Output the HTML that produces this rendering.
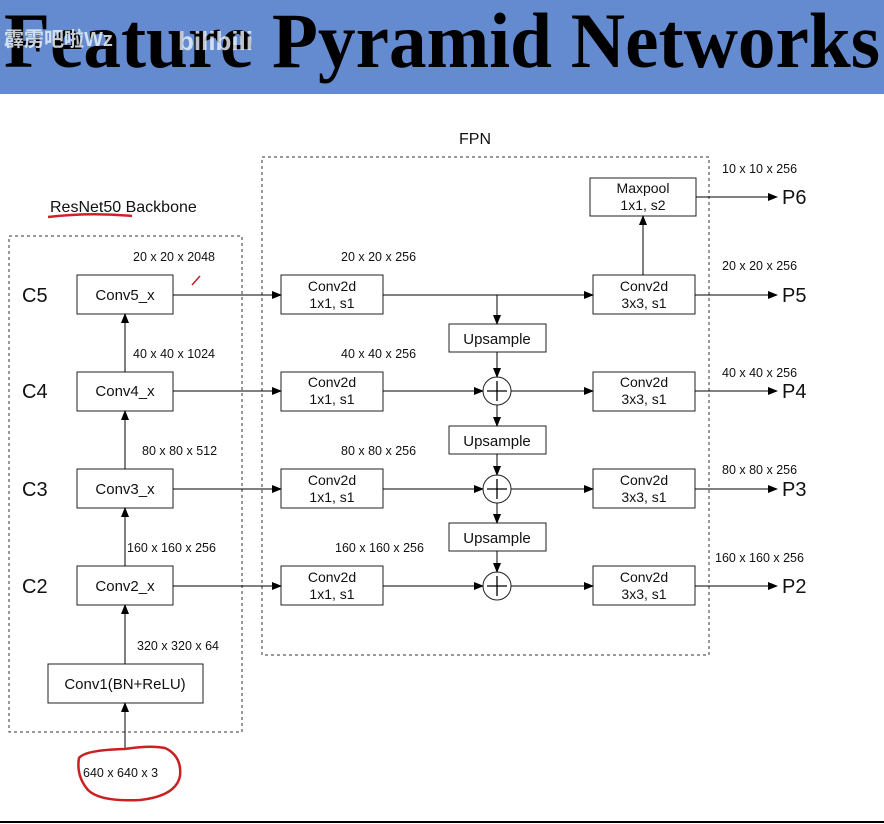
<!DOCTYPE html>
<html><head><meta charset="utf-8"><style>
html,body{margin:0;padding:0;background:#fff;width:884px;height:824px;overflow:hidden}
svg{display:block}
text{font-family:"Liberation Sans",Arial,sans-serif;fill:#111}
</style></head><body>
<svg width="884" height="824" viewBox="0 0 884 824" xmlns="http://www.w3.org/2000/svg">
<defs><marker id="a" markerWidth="10" markerHeight="10" refX="9" refY="5" orient="auto" markerUnits="userSpaceOnUse"><path d="M0,1 L10,5 L0,9 Z" fill="#000"/></marker></defs>
<rect x="0" y="0" width="884" height="94" fill="#648bd0"/>
<text x="4" y="67" textLength="876" lengthAdjust="spacingAndGlyphs" style="font-family:'Liberation Serif',serif;font-weight:bold;font-size:78px;fill:#000">Feature Pyramid Networks</text>
<text x="4" y="46" style="font-family:'Liberation Sans','Noto Sans CJK SC',sans-serif;font-size:20px;font-weight:bold;fill:#e8eef8;opacity:.85">霹雳吧啦Wz</text>
<text x="178" y="50" style="font-size:26px;font-weight:bold;fill:#eef3fb;opacity:.8">bilibili</text>
<line x1="0" y1="822" x2="884" y2="822" stroke="#000" stroke-width="2"/>
<g fill="none" stroke="#333" stroke-dasharray="3,3" stroke-width="1">
<rect x="9" y="236" width="233" height="496"/>
<rect x="262" y="157" width="447" height="498"/>
</g>
<text x="459" y="144" font-size="16">FPN</text>
<text x="50" y="212" font-size="16">ResNet50 Backbone</text>
<path d="M48 217 Q90 212 132 216" stroke="#d0202a" stroke-width="2.5" fill="none"/>
<g fill="#fff" stroke="#222" stroke-width="1">
<rect x="77" y="275" width="96" height="39"/><rect x="77" y="372" width="96" height="39"/>
<rect x="77" y="469" width="96" height="39"/><rect x="77" y="566" width="96" height="39"/>
<rect x="48" y="664" width="155" height="39"/>
<rect x="281" y="275" width="102" height="39"/><rect x="281" y="372" width="102" height="39"/>
<rect x="281" y="469" width="102" height="39"/><rect x="281" y="566" width="102" height="39"/>
<rect x="593" y="275" width="102" height="39"/><rect x="593" y="372" width="102" height="39"/>
<rect x="593" y="469" width="102" height="39"/><rect x="593" y="566" width="102" height="39"/>
<rect x="590" y="178" width="106" height="38"/>
<rect x="449" y="324" width="97" height="28"/><rect x="449" y="426" width="97" height="28"/><rect x="449" y="523" width="97" height="28"/>
<circle cx="497" cy="391" r="14"/><circle cx="497" cy="489" r="14"/><circle cx="497" cy="586" r="14"/>
</g>
<g stroke="#000" stroke-width="1.3"><path d="M497 381v20M487 391h20M497 479v20M487 489h20M497 576v20M487 586h20"/></g>
<g stroke="#000" stroke-width="1" fill="none" marker-end="url(#a)">
<line x1="173" y1="295" x2="281" y2="295"/><line x1="173" y1="391" x2="281" y2="391"/>
<line x1="173" y1="489" x2="281" y2="489"/><line x1="173" y1="586" x2="281" y2="586"/>
<line x1="125" y1="372" x2="125" y2="314"/><line x1="125" y1="469" x2="125" y2="411"/>
<line x1="125" y1="566" x2="125" y2="508"/><line x1="125" y1="664" x2="125" y2="605"/>
<line x1="125" y1="748" x2="125" y2="703"/>
<line x1="383" y1="295" x2="593" y2="295"/>
<line x1="497" y1="295" x2="497" y2="324"/>
<line x1="383" y1="391" x2="483" y2="391"/><line x1="383" y1="489" x2="483" y2="489"/><line x1="383" y1="586" x2="483" y2="586"/>
<line x1="497" y1="352" x2="497" y2="377"/><line x1="497" y1="454" x2="497" y2="475"/><line x1="497" y1="551" x2="497" y2="572"/>
<line x1="497" y1="405" x2="497" y2="426"/><line x1="497" y1="503" x2="497" y2="523"/>
<line x1="511" y1="391" x2="593" y2="391"/><line x1="511" y1="489" x2="593" y2="489"/><line x1="511" y1="586" x2="593" y2="586"/>
<line x1="643" y1="275" x2="643" y2="216"/>
<line x1="696" y1="197" x2="777" y2="197"/><line x1="695" y1="295" x2="777" y2="295"/>
<line x1="695" y1="391" x2="777" y2="391"/><line x1="695" y1="489" x2="777" y2="489"/><line x1="695" y1="586" x2="777" y2="586"/>
</g>
<g font-size="15" text-anchor="middle">
<text x="125" y="300">Conv5_x</text><text x="125" y="396">Conv4_x</text>
<text x="125" y="494">Conv3_x</text><text x="125" y="591">Conv2_x</text>
<text x="125" y="689">Conv1(BN+ReLU)</text>
<text x="497" y="344">Upsample</text><text x="497" y="446">Upsample</text><text x="497" y="543">Upsample</text>
</g>
<g font-size="14" text-anchor="middle">
<text x="332" y="291">Conv2d</text><text x="332" y="308">1x1, s1</text>
<text x="332" y="387">Conv2d</text><text x="332" y="404">1x1, s1</text>
<text x="332" y="485">Conv2d</text><text x="332" y="502">1x1, s1</text>
<text x="332" y="582">Conv2d</text><text x="332" y="599">1x1, s1</text>
<text x="644" y="291">Conv2d</text><text x="644" y="308">3x3, s1</text>
<text x="644" y="387">Conv2d</text><text x="644" y="404">3x3, s1</text>
<text x="644" y="485">Conv2d</text><text x="644" y="502">3x3, s1</text>
<text x="644" y="582">Conv2d</text><text x="644" y="599">3x3, s1</text>
<text x="643" y="193">Maxpool</text><text x="643" y="210">1x1, s2</text>
</g>
<g font-size="20">
<text x="22" y="302">C5</text><text x="22" y="398">C4</text><text x="22" y="496">C3</text><text x="22" y="593">C2</text>
<text x="782" y="204">P6</text><text x="782" y="302">P5</text><text x="782" y="398">P4</text><text x="782" y="496">P3</text><text x="782" y="593">P2</text>
</g>
<g font-size="12.5">
<text x="133" y="261">20 x 20 x 2048</text><text x="133" y="358">40 x 40 x 1024</text>
<text x="142" y="455">80 x 80 x 512</text><text x="127" y="552">160 x 160 x 256</text>
<text x="137" y="650">320 x 320 x 64</text>
<text x="341" y="261">20 x 20 x 256</text><text x="341" y="358">40 x 40 x 256</text>
<text x="341" y="455">80 x 80 x 256</text><text x="335" y="552">160 x 160 x 256</text>
<text x="722" y="173">10 x 10 x 256</text><text x="722" y="270">20 x 20 x 256</text>
<text x="722" y="377">40 x 40 x 256</text><text x="722" y="474">80 x 80 x 256</text>
<text x="715" y="562">160 x 160 x 256</text>
<text x="83" y="777">640 x 640 x 3</text>
</g>
<path d="M125 749 Q150 745 165 748 Q182 756 180 776 Q176 796 140 800 Q100 802 88 790 Q76 776 79 758 Q85 750 125 749" stroke="#cc1f22" stroke-width="2.5" fill="none"/>
<path d="M192 285 L200 276" stroke="#c02020" stroke-width="1.5"/>
</svg>
</body></html>
